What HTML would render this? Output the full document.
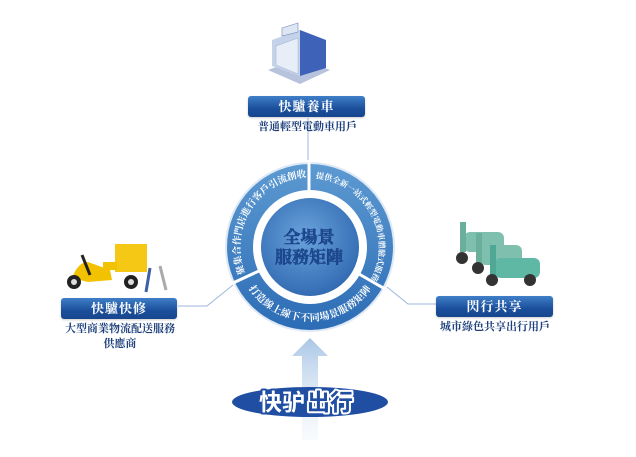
<!DOCTYPE html>
<html><head><meta charset="utf-8"><style>
html,body{margin:0;padding:0;background:#fff;}
body{width:636px;height:457px;position:relative;overflow:hidden;font-family:"Liberation Serif","Noto Serif CJK SC","Noto Sans CJK TC",serif;}
.box{position:absolute;height:21px;border-radius:3px;background:linear-gradient(#3f7fc8,#1b4f9c 60%,#17468d);color:#fff;font-size:13px;font-weight:bold;text-align:center;line-height:21px;letter-spacing:1px;box-shadow:0 1px 2px rgba(0,0,0,.2);}
.cap{position:absolute;font-size:11px;font-weight:bold;color:#1d3f7c;text-align:center;line-height:15px;}
</style></head><body>
<svg width="636" height="457" style="position:absolute;left:0;top:0">
<defs>
<linearGradient id="ring" x1="0" y1="0" x2="0" y2="1"><stop offset="0" stop-color="#5d9ad2"/><stop offset="1" stop-color="#2c6cb5"/></linearGradient>
<radialGradient id="disc" cx=".45" cy=".4" r=".7"><stop offset="0" stop-color="#6aa3db"/><stop offset="1" stop-color="#2a63ad"/></radialGradient>
<linearGradient id="arr" x1="0" y1="0" x2="0" y2="1"><stop offset="0" stop-color="#a9c6e6"/><stop offset="1" stop-color="#eaf1f9" stop-opacity=".3"/></linearGradient>
<path id="pl" d="M244.2,270.9 A70,70 0 0 1 303.9,177.3"/>
<path id="pr" d="M313.6,178.1 A69,69 0 0 1 369.8,281.5"/>
<path id="pb" d="M245.9,284 A74,74 0 0 0 374.1,284"/>
</defs>
<g stroke="#9db7dc" stroke-width="1" fill="none">
<line x1="308" y1="118" x2="308" y2="163"/>
<polyline points="178,306 207,306 233,285"/>
<polyline points="387,287 408,304 436,304"/>
</g>
<circle cx="310" cy="247" r="84" fill="#fff" stroke="#dfe9f5" stroke-width="2"/>
<circle cx="310" cy="247" r="83" fill="url(#ring)"/>
<circle cx="310" cy="247" r="57" fill="#fff"/>
<circle cx="310" cy="247" r="49" fill="url(#disc)"/>
<g stroke="#fff" stroke-width="3">
<line x1="309" y1="160" x2="309" y2="192"/>
<line x1="233" y1="283" x2="261" y2="270"/>
<line x1="359" y1="274" x2="385" y2="289"/>
</g>
<g fill="#fff" font-size="9.5" font-weight="bold" font-family="Liberation Serif,Noto Serif CJK SC,serif">
<text><textPath href="#pl" startOffset="50%" text-anchor="middle">聚集合作門店進行客戶引流創收</textPath></text>
<text font-size="8"><textPath href="#pr" startOffset="50%" text-anchor="middle">提供全新一站式輕型電動車體驗式服務</textPath></text>
<text font-size="10" letter-spacing="0.3"><textPath href="#pb" startOffset="50%" text-anchor="middle">打造線上線下不同場景服務矩陣</textPath></text>
</g>
<g font-size="17" font-weight="bold" fill="#1f4c97" stroke="#163d80" stroke-width=".5" text-anchor="middle">
<text x="309" y="243">全場景</text>
<text x="309" y="263">服務矩陣</text>
</g>
<polygon points="268,70 300,58 330,70 300,84" fill="#b7c3dc"/>
<polygon points="272,40 300,30 300,76 272,66" fill="#c5d3ea"/>
<polygon points="300,30 326,40 326,68 300,76" fill="#3e62b8"/>
<polygon points="276,46 298,38 298,74 276,65" fill="#e8eef8" stroke="#9fb0cf" stroke-width=".5"/>
<polygon points="282,28 298,23 298,32 282,36" fill="#dfe6f3" stroke="#6f86b8" stroke-width=".6"/>
<rect x="115" y="244" width="32" height="28" fill="#f5c815"/>
<rect x="103" y="262" width="14" height="8" fill="#f2c200"/>
<path d="M72,278 Q78,262 88,262 L110,270 L112,280 L88,282 Z" fill="#f2c200"/>
<path d="M82,255 L90,275" stroke="#222" stroke-width="3"/>
<circle cx="74" cy="282" r="7" fill="#222"/><circle cx="74" cy="282" r="3" fill="#ddd"/>
<circle cx="131" cy="282" r="7" fill="#222"/><circle cx="131" cy="282" r="3" fill="#ddd"/>
<line x1="150" y1="268" x2="146" y2="292" stroke="#3b5fa8" stroke-width="3"/>
<line x1="160" y1="266" x2="166" y2="290" stroke="#aaa" stroke-width="3"/>
<g fill="#7fbfae">
<rect x="464" y="232" width="40" height="20" rx="6"/>
<rect x="480" y="245" width="42" height="20" rx="6"/>
<rect x="495" y="258" width="45" height="20" rx="6" fill="#5fb8a4"/>
<rect x="460" y="222" width="6" height="30" fill="#6aae9c"/>
<rect x="476" y="233" width="6" height="30" fill="#6aae9c"/>
<rect x="490" y="245" width="6" height="34" fill="#4fa894"/>
</g>
<g fill="#333"><circle cx="462" cy="258" r="6"/><circle cx="478" cy="268" r="6"/><circle cx="492" cy="280" r="6"/><circle cx="530" cy="280" r="6"/></g>
<polygon points="310,338 328,356 318,356 318,440 302,440 302,356 292,356" fill="url(#arr)"/>
<ellipse cx="310" cy="402" rx="78" ry="15" fill="#1f4ea3"/>
<g font-family="Liberation Sans,Noto Sans CJK SC,sans-serif" font-size="23" font-weight="bold" paint-order="stroke" stroke-linejoin="round">
<text x="259" y="410" fill="#fff" stroke="#1f4ea3" stroke-width="4">快驴</text>
<text x="307" y="410" fill="#1f4ea3" stroke="#fff" stroke-width="4">出行</text>
</g>
</svg>
<div class="box" style="left:248px;top:96px;width:117px">快驢養車</div>
<div class="cap" style="left:230px;top:120px;width:155px">普通輕型電動車用戶</div>
<div class="box" style="left:61px;top:298px;width:116px">快驢快修</div>
<div class="cap" style="left:50px;top:322px;width:140px">大型商業物流配送服務<br>供應商</div>
<div class="box" style="left:436px;top:296px;width:117px">閃行共享</div>
<div class="cap" style="left:420px;top:320px;width:150px">城市綠色共享出行用戶</div>
</body></html>
